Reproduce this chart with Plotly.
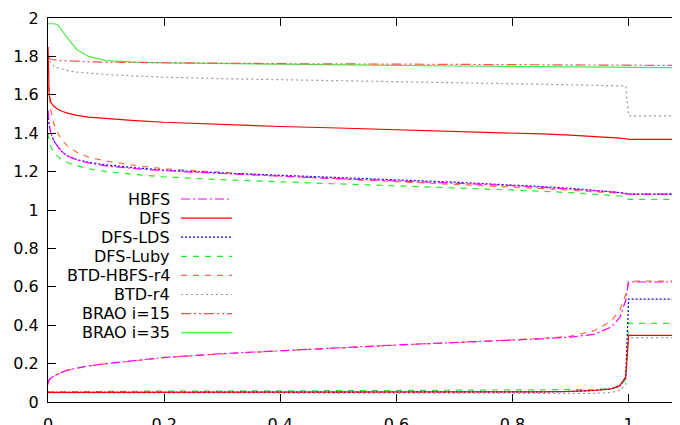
import plotly.graph_objects as go

# shared x grid
x_grid = [0, 0.002, 0.005, 0.01, 0.017, 0.025, 0.035, 0.05, 0.07, 0.1, 0.15, 0.2,
          0.3, 0.4, 0.5, 0.6, 0.7, 0.8, 0.85, 0.9, 0.94, 0.97, 0.985, 0.995, 1.0, 1.1]

names = ["HBFS", "DFS", "DFS-LDS", "DFS-Luby", "BTD-HBFS-r4", "BTD-r4", "BRAO i=15", "BRAO i=35"]

upper = {
    "HBFS":        [1.52, 1.45, 1.40, 1.36, 1.33, 1.30, 1.28, 1.26, 1.245, 1.23, 1.215, 1.205,
                    1.19, 1.175, 1.163, 1.152, 1.14, 1.127, 1.118, 1.11, 1.102, 1.095, 1.09, 1.087, 1.083, 1.083],
    "DFS":         [1.85, 1.60, 1.56, 1.54, 1.525, 1.513, 1.503, 1.493, 1.484, 1.476, 1.466, 1.457,
                    1.445, 1.435, 1.427, 1.419, 1.41, 1.401, 1.396, 1.39, 1.384, 1.378, 1.374, 1.371, 1.368, 1.368],
    "DFS-LDS":     [1.50, 1.44, 1.40, 1.36, 1.33, 1.30, 1.28, 1.262, 1.248, 1.235, 1.22, 1.208,
                    1.193, 1.18, 1.168, 1.157, 1.145, 1.132, 1.122, 1.113, 1.104, 1.096, 1.091, 1.087, 1.083, 1.083],
    "DFS-Luby":    [1.40, 1.36, 1.33, 1.30, 1.278, 1.26, 1.245, 1.23, 1.215, 1.20, 1.185, 1.172,
                    1.158, 1.146, 1.136, 1.126, 1.116, 1.105, 1.098, 1.09, 1.083, 1.077, 1.073, 1.068, 1.055, 1.055],
    "BTD-HBFS-r4": [1.65, 1.58, 1.52, 1.45, 1.40, 1.36, 1.33, 1.30, 1.275, 1.255, 1.232, 1.215,
                    1.195, 1.177, 1.162, 1.148, 1.135, 1.12, 1.112, 1.103, 1.097, 1.092, 1.088, 1.085, 1.081, 1.081],
    "BTD-r4":      [1.80, 1.78, 1.765, 1.75, 1.74, 1.732, 1.725, 1.718, 1.712, 1.706, 1.698, 1.692,
                    1.684, 1.678, 1.673, 1.668, 1.663, 1.658, 1.655, 1.652, 1.65, 1.648, 1.647, 1.646, 1.49, 1.49],
    "BRAO i=15":   [1.80, 1.79, 1.785, 1.782, 1.78, 1.778, 1.776, 1.774, 1.772, 1.77, 1.768, 1.766,
                    1.764, 1.762, 1.761, 1.76, 1.759, 1.758, 1.757, 1.756, 1.755, 1.755, 1.754, 1.754, 1.753, 1.753],
    "BRAO i=35":   [1.97, 1.97, 1.97, 1.97, 1.965, 1.93, 1.89, 1.835, 1.80, 1.778, 1.77, 1.766,
                    1.762, 1.759, 1.756, 1.753, 1.75, 1.748, 1.746, 1.745, 1.744, 1.743, 1.742, 1.742, 1.741, 1.741],
}

lower = {
    "HBFS":        [0.10, 0.115, 0.125, 0.135, 0.146, 0.157, 0.167, 0.177, 0.188, 0.2, 0.215, 0.232,
                    0.252, 0.268, 0.283, 0.297, 0.31, 0.322, 0.329, 0.338, 0.352, 0.39, 0.44, 0.53, 0.625, 0.625],
    "DFS":         [0.05, 0.05, 0.05, 0.05, 0.05, 0.05, 0.05, 0.05, 0.05, 0.05, 0.05, 0.05,
                    0.05, 0.05, 0.05, 0.051, 0.051, 0.052, 0.053, 0.055, 0.06, 0.068, 0.085, 0.13, 0.347, 0.347],
    "DFS-LDS":     [0.05, 0.05, 0.05, 0.05, 0.05, 0.05, 0.05, 0.05, 0.05, 0.05, 0.05, 0.05,
                    0.05, 0.05, 0.05, 0.051, 0.051, 0.052, 0.053, 0.055, 0.06, 0.068, 0.085, 0.13, 0.536, 0.536],
    "DFS-Luby":    [0.052, 0.052, 0.052, 0.053, 0.053, 0.053, 0.054, 0.054, 0.055, 0.055, 0.056, 0.056,
                    0.057, 0.058, 0.059, 0.06, 0.061, 0.062, 0.063, 0.064, 0.065, 0.07, 0.08, 0.12, 0.41, 0.41],
    "BTD-HBFS-r4": [0.09, 0.112, 0.124, 0.134, 0.145, 0.156, 0.166, 0.176, 0.187, 0.199, 0.214, 0.231,
                    0.251, 0.267, 0.282, 0.296, 0.309, 0.322, 0.331, 0.343, 0.37, 0.42, 0.48, 0.56, 0.63, 0.63],
    "BTD-r4":      [0.048, 0.048, 0.048, 0.048, 0.048, 0.048, 0.048, 0.048, 0.048, 0.048, 0.048, 0.048,
                    0.048, 0.048, 0.047, 0.047, 0.046, 0.046, 0.045, 0.045, 0.045, 0.05, 0.06, 0.09, 0.335, 0.335],
}

colors = {
    "HBFS": "#ff00ff", "DFS": "#ff0000", "DFS-LDS": "#0000ff", "DFS-Luby": "#22ee22",
    "BTD-HBFS-r4": "#ff7038", "BTD-r4": "#999999", "BRAO i=15": "#ff5050", "BRAO i=35": "#44f044",
}
dashes = {
    "HBFS": "9px,3px,2px,3px", "DFS": "solid", "DFS-LDS": "2px,2px", "DFS-Luby": "6px,6px",
    "BTD-HBFS-r4": "6px,6px", "BTD-r4": "2px,3px", "BRAO i=15": "10px,3px,2px,3px,2px,3px",
    "BRAO i=35": "solid",
}

y_ticks = [0, 0.2, 0.4, 0.6, 0.8, 1, 1.2, 1.4, 1.6, 1.8, 2]
y_tick_text = ["0", "0.2", "0.4", "0.6", "0.8", "1", "1.2", "1.4", "1.6", "1.8", "2"]
x_ticks = [0, 0.2, 0.4, 0.6, 0.8, 1]
x_tick_text = ["0", "0.2", "0.4", "0.6", "0.8", "1"]

fig = go.Figure()
draw_order = ["BRAO i=35", "BRAO i=15", "BTD-r4", "BTD-HBFS-r4", "DFS-Luby", "DFS-LDS", "DFS", "HBFS"]
for n in draw_order:
    for d in (lower, upper):
        if n in d:
            fig.add_trace(go.Scatter(x=x_grid, y=d[n], mode="lines", name=n, showlegend=False,
                                     line=dict(color=colors[n], width=1.2, dash=dashes[n])))

# page body has an 8px margin: shift the figure up/left accordingly
OFF = 8
W, H = 680, 425
L, R, T, B = 48 - OFF, 2, 18 - OFF, 23 + OFF
pw, ph = W - L - R, H - T - B
x_max = pw / 580.6

def px_to_paper(px, py):
    # px, py given in screenshot pixels
    return (px - OFF - L) / pw, (H - B - (py - OFF)) / ph

legend_text_right = 170
legend_line = (181, 232)
legend_top = 199
legend_step = 19.1
for i, n in enumerate(names):
    py = legend_top + i * legend_step
    xr, yr = px_to_paper(legend_text_right, py)
    fig.add_annotation(x=xr, y=yr, xref="paper", yref="paper", text=n, showarrow=False,
                       xanchor="right", yanchor="middle", xshift=2,
                       font=dict(size=16, color="#000000", family="DejaVu Sans"))
    x0, _ = px_to_paper(legend_line[0], py)
    x1, _ = px_to_paper(legend_line[1], py)
    fig.add_shape(type="line", xref="paper", yref="paper", x0=x0, x1=x1, y0=yr, y1=yr,
                  line=dict(color=colors[n], width=1.2, dash=dashes[n]))

fig.update_layout(
    template="none",
    width=W, height=H,
    margin=dict(l=L, r=R, t=T, b=B, pad=0, autoexpand=False),
    paper_bgcolor="white", plot_bgcolor="white",
    font=dict(family="DejaVu Sans", size=16, color="black"),
    showlegend=False,
)
fig.update_xaxes(range=[0, x_max], tickvals=x_ticks, ticktext=x_tick_text, automargin=False,
                 ticks="inside", ticklen=8, tickcolor="black", showgrid=False, zeroline=False,
                 showline=True, linecolor="black", linewidth=1, mirror="ticks", ticklabelstandoff=8)
fig.update_yaxes(range=[0, 2], tickvals=y_ticks, ticktext=y_tick_text, automargin=False,
                 ticks="inside", ticklen=8, tickcolor="black", showgrid=False, zeroline=False,
                 showline=True, linecolor="black", linewidth=1, mirror="ticks", ticklabelstandoff=5)

fig.write_html("out.html")
